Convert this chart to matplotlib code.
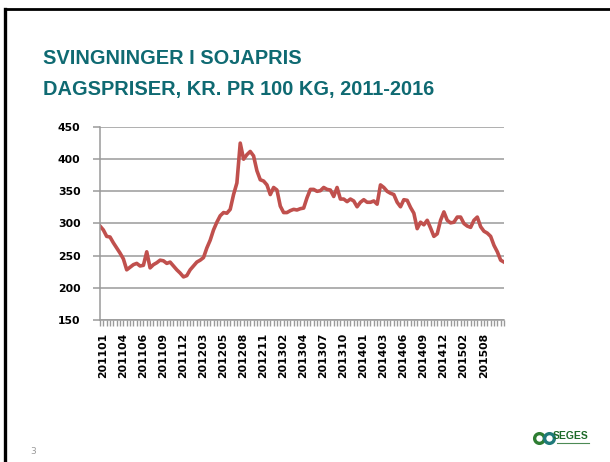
import matplotlib
matplotlib.use("Agg")
import matplotlib.pyplot as plt
from matplotlib.lines import Line2D

# soybean daily prices (kr. per 100 kg)
prices = [296, 290, 280, 279, 270, 262, 254, 245, 228, 232,
          236, 238, 234, 235, 256, 231, 236, 239, 243, 242,
          238, 240, 234, 228, 223, 217, 219, 228, 234, 240,
          243, 247, 262, 274, 290, 302, 312, 317, 316, 322,
          345, 363, 425, 400, 407, 412, 405, 382, 368, 366,
          360, 345, 356, 352, 327, 317, 317, 320, 322, 321,
          323, 324, 340, 353, 353, 350, 351, 356, 353, 352,
          342, 356, 338, 338, 334, 338, 335, 326, 333, 337,
          333, 333, 335, 330, 360, 356, 350, 347, 345, 333,
          326, 337, 336, 325, 316, 292, 302, 298, 305, 293,
          280, 284, 305, 318, 305, 301, 302, 310, 310, 300,
          296, 294, 305, 310, 295, 288, 285, 280, 266, 256,
          243, 240]
tick_labels = ["201101", "201104", "201106", "201109", "201112",
               "201203", "201205", "201208", "201211", "201302",
               "201304", "201307", "201310", "201401", "201403",
               "201406", "201409", "201412", "201502", "201508"]
label_step = 6

W, H = 610, 462
fig = plt.figure(figsize=(W / 100, H / 100), dpi=100)
fig.patch.set_facecolor("white")

ax = fig.add_axes([100 / W, 1 - 320 / H, 404 / W, 193 / H])
x = list(range(len(prices)))
ax.plot(x, prices, color="#C0504D", lw=2.6, solid_joinstyle="round")

ax.set_xlim(0, len(prices) - 1)
ax.set_ylim(150, 450)
ax.set_yticks([150, 200, 250, 300, 350, 400, 450])
ax.yaxis.grid(True, color="#9a9a9a", lw=1.1)
ax.set_axisbelow(True)
for s in ["top", "right"]:
    ax.spines[s].set_visible(False)
for s in ["left", "bottom"]:
    ax.spines[s].set_color("#9a9a9a")
    ax.spines[s].set_linewidth(1.1)

tick_pos = [i * label_step + 0.9 for i in range(len(tick_labels))]
ax.set_xticks(tick_pos)
ax.set_xticklabels(tick_labels, rotation=90, fontsize=7.8, fontweight="bold",
                   family="DejaVu Sans", va="top")
ax.set_xticks(x, minor=True)
ax.tick_params(axis="x", which="major", length=0, pad=9)
ax.tick_params(axis="x", which="minor", length=4, width=1, color="#9a9a9a")
ax.tick_params(axis="y", length=5, width=1.1, color="#9a9a9a", pad=9)
for t in ax.get_yticklabels():
    t.set_fontsize(7.8)
    t.set_fontweight("bold")

teal = "#0F6A72"
fig.text(43 / W, 1 - 58 / H, "SVINGNINGER I SOJAPRIS", color=teal,
         fontsize=14.4, fontweight="bold", family="Liberation Sans", va="center")
fig.text(43 / W, 1 - 89 / H, "DAGSPRISER, KR. PR 100 KG, 2011-2016", color=teal,
         fontsize=14.4, fontweight="bold", family="Liberation Sans", va="center")

fig.text(33 / W, 1 - 451 / H, "3", color="#9a9a9a", fontsize=6.5,
         ha="center", va="center")

# logo
fig.add_artist(Line2D([539 / W], [1 - 438 / H], marker="o", markersize=7,
                      markerfacecolor="white", markeredgecolor="#2E7D32",
                      markeredgewidth=2.4))
fig.add_artist(Line2D([549 / W], [1 - 438 / H], marker="o", markersize=7,
                      markerfacecolor="white", markeredgecolor="#1F7A7A",
                      markeredgewidth=2.4))
fig.text(571 / W, 1 - 436 / H, "SEGES", color="#1E6B2A", fontsize=7.5,
         fontweight="bold", ha="center", va="center", family="Liberation Sans")
fig.add_artist(Line2D([557 / W, 589 / W], [1 - 443 / H, 1 - 443 / H],
                      color="#4C8A55", lw=0.8))

# slide border
fig.add_artist(Line2D([4.5 / W, 4.5 / W], [0, 1 - 8.5 / H], color="black", lw=2.4))
fig.add_artist(Line2D([4.5 / W, 1], [1 - 8.5 / H, 1 - 8.5 / H], color="black", lw=2.0))

fig.savefig("out.png", dpi=100)
